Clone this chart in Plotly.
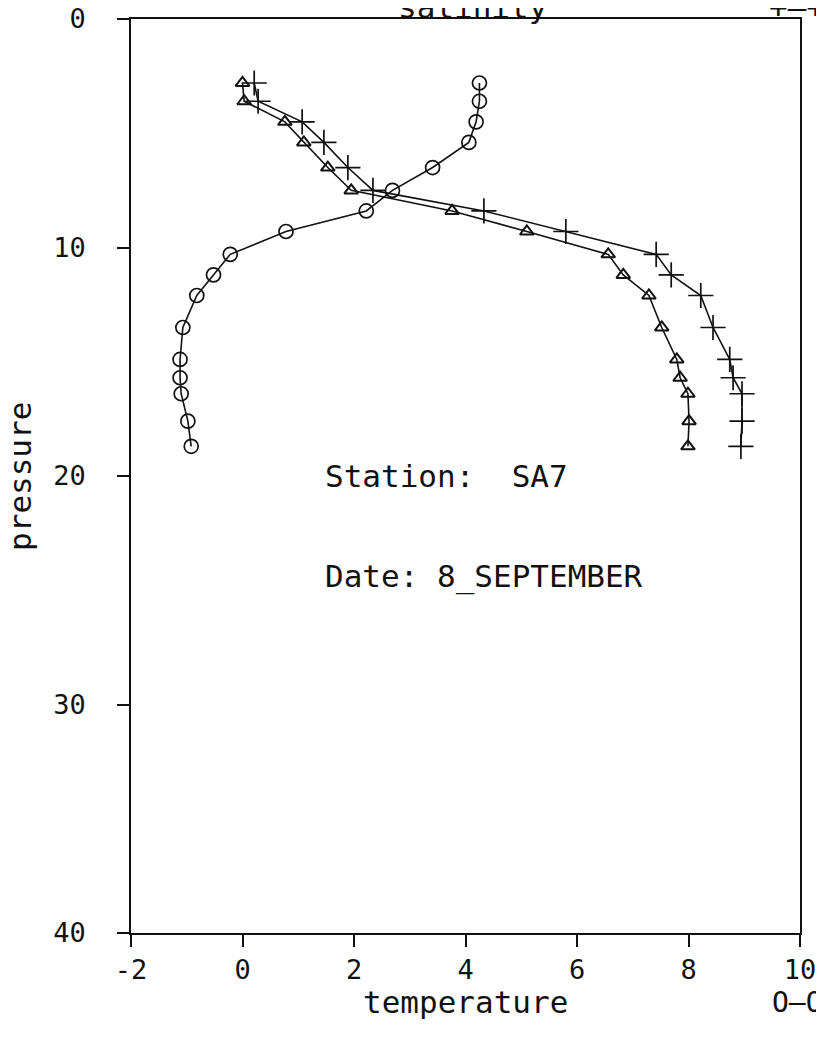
import plotly.graph_objects as go

# Data (x in bottom-axis units)
pressure = [2.8, 3.6, 4.5, 5.4, 6.5, 7.5, 8.4, 9.3, 10.3, 11.2, 12.1, 13.5, 14.9, 15.7, 16.4, 17.6, 18.7]
temperature = [4.25, 4.25, 4.19, 4.06, 3.41, 2.69, 2.22, 0.78, -0.22, -0.52, -0.82, -1.07, -1.12, -1.12, -1.10, -0.98, -0.92]
density = [0.00, 0.03, 0.76, 1.10, 1.53, 1.95, 3.76, 5.10, 6.56, 6.83, 7.29, 7.52, 7.79, 7.85, 7.99, 8.01, 7.99]
salinity = [0.21, 0.28, 1.07, 1.46, 1.89, 2.34, 4.33, 5.80, 7.42, 7.69, 8.22, 8.44, 8.74, 8.80, 8.96, 8.96, 8.94]

x_ticks = [-2, 0, 2, 4, 6, 8, 10]
y_ticks = [0, 10, 20, 30, 40]

FONT = "DejaVu Sans Mono"
INK = "#111111"

fig = go.Figure()
fig.add_trace(go.Scatter(
    x=temperature, y=pressure, mode="lines+markers", name="temperature",
    line=dict(color=INK, width=1.6),
    marker=dict(symbol="circle-open", size=14, color=INK, line=dict(width=1.7, color=INK)),
))
fig.add_trace(go.Scatter(
    x=density, y=pressure, mode="lines+markers", name="density",
    line=dict(color=INK, width=1.6),
    marker=dict(symbol="triangle-up-open", size=12, color=INK, line=dict(width=2, color=INK)),
))
fig.add_trace(go.Scatter(
    x=salinity, y=pressure, mode="lines+markers", name="salinity",
    line=dict(color=INK, width=1.6),
    marker=dict(symbol="cross-thin", size=18, color=INK, line=dict(width=1.7, color=INK)),
))

axis_common = dict(
    showgrid=False, zeroline=False, showline=True, linecolor=INK, linewidth=1.6,
    mirror=True, ticks="outside", ticklen=12, tickwidth=1.6, tickcolor=INK,
    tickfont=dict(family=FONT, size=27, color=INK), automargin=False,
    ticklabeloverflow="allow",
)
fig.update_xaxes(range=[-2, 10], tickvals=x_ticks, ticktext=[str(v) for v in x_ticks],
                 ticklabelstandoff=0, **axis_common)
fig.update_yaxes(range=[40, 0], tickvals=y_ticks, ticktext=[str(v) for v in y_ticks],
                 ticklabelstandoff=26, **axis_common)

annos = [
    dict(text="Station:  SA7", x=1.45, y=20.0, xref="x", yref="y", xanchor="left", yanchor="middle",
         font=dict(family=FONT, size=31, color=INK), showarrow=False),
    dict(text="Date: 8_SEPTEMBER", x=1.45, y=24.4, xref="x", yref="y", xanchor="left", yanchor="middle",
         font=dict(family=FONT, size=31, color=INK), showarrow=False),
    dict(text="pressure", x=-0.166, y=0.5, xref="paper", yref="paper", textangle=-90,
         xanchor="center", yanchor="middle", font=dict(family=FONT, size=31, color=INK), showarrow=False),
    dict(text="temperature", x=0.5, y=-0.076, xref="paper", yref="paper",
         xanchor="center", yanchor="middle", font=dict(family=FONT, size=31, color=INK), showarrow=False),
    dict(text="O—O", x=0.955, y=-0.076, xref="paper", yref="paper",
         xanchor="left", yanchor="middle", font=dict(family=FONT, size=28, color=INK), showarrow=False),
    dict(text="salinity", x=0.51, y=1.013, xref="paper", yref="paper",
         xanchor="center", yanchor="middle", font=dict(family=FONT, size=31, color=INK), showarrow=False),
    dict(text="+—+", x=0.95, y=1.013, xref="paper", yref="paper",
         xanchor="left", yanchor="middle", font=dict(family=FONT, size=31, color=INK), showarrow=False),
]

# page body has an 8px offset, so the margins compensate for it
fig.update_layout(
    width=824, height=1052,
    margin=dict(l=123, r=32, t=11, b=127),
    paper_bgcolor="white", plot_bgcolor="white",
    showlegend=False,
    annotations=annos,
)

fig.write_html("out.html")
